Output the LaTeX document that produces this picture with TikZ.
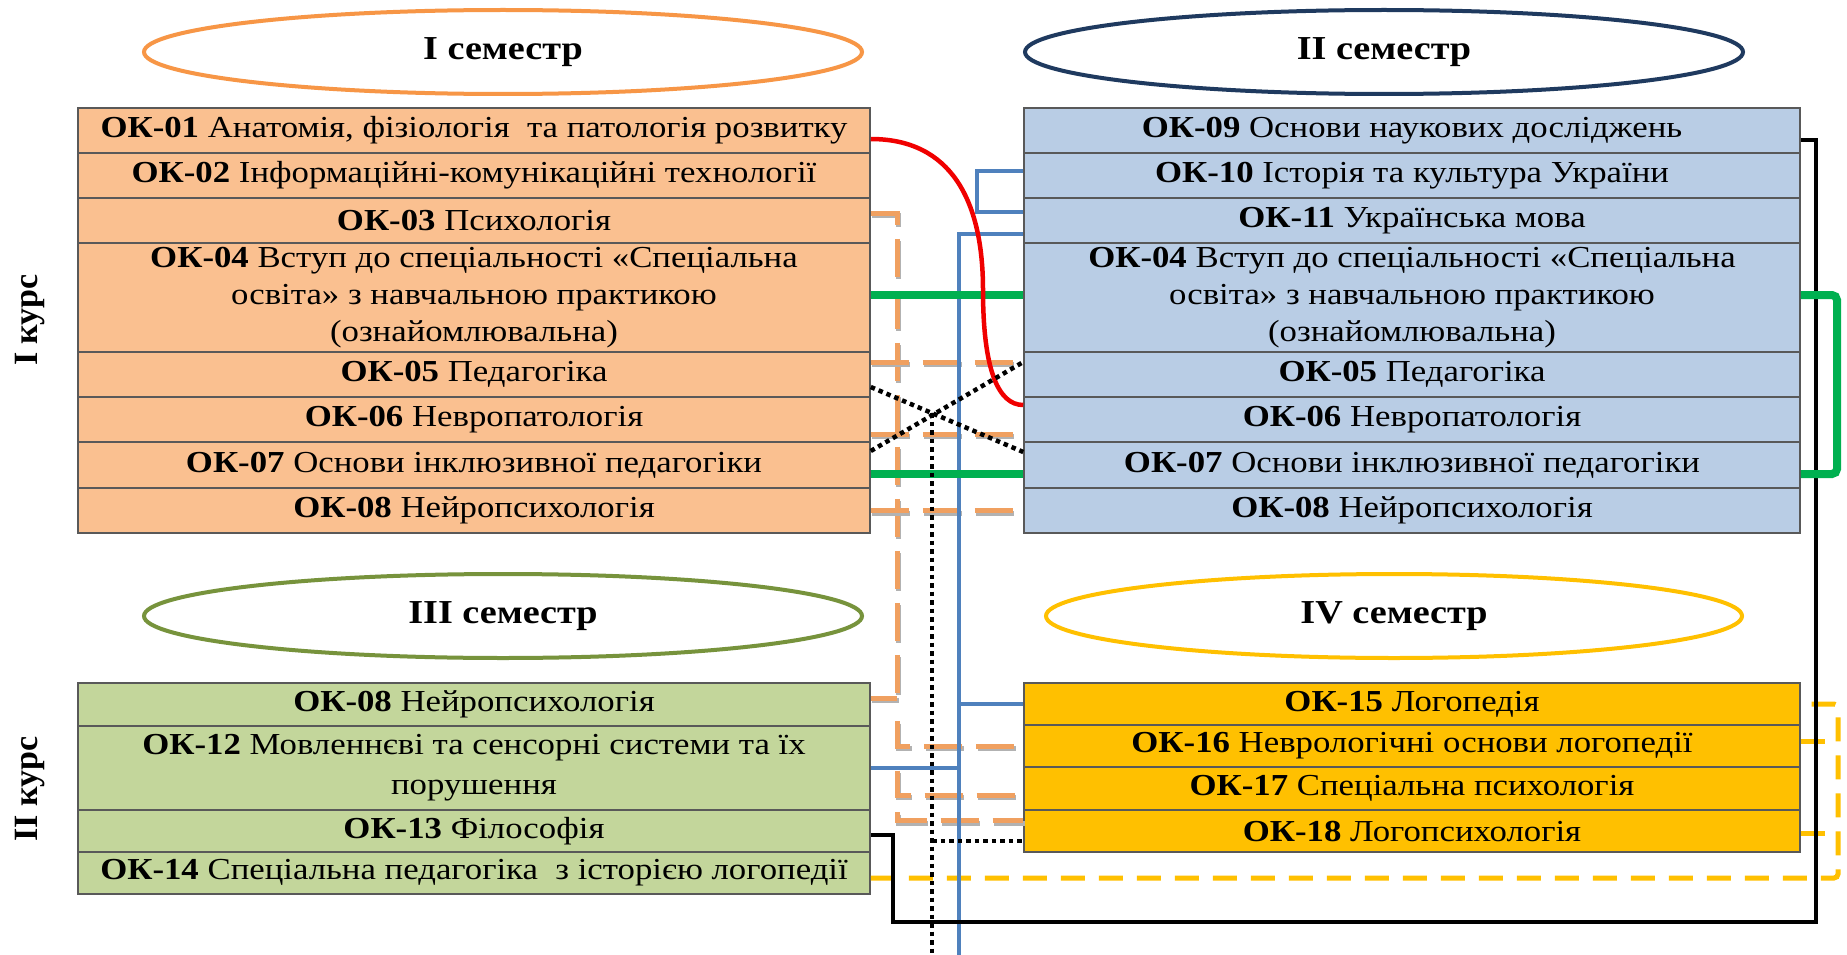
\documentclass[tikz,border=0pt]{standalone}
\usepackage{fontspec}
\setmainfont{Liberation Serif}[FakeStretch=1.14]
\newfontfamily\kursfont{Liberation Serif}
\usetikzlibrary{shapes.geometric,calc}
\definecolor{orfill}{HTML}{FAC090}
\definecolor{blfill}{HTML}{B9CDE5}
\definecolor{grfill}{HTML}{C3D69B}
\definecolor{yefill}{HTML}{FFC000}
\definecolor{bordc}{HTML}{595959}
\definecolor{orln}{HTML}{F0A060}
\definecolor{blln}{HTML}{4F81BD}
\definecolor{grln}{HTML}{00B050}
\definecolor{rdln}{HTML}{F00000}
\definecolor{yeln}{HTML}{FFC000}
\definecolor{eorange}{HTML}{F79646}
\definecolor{enavy}{HTML}{1F3A5F}
\definecolor{eolive}{HTML}{77933C}
\definecolor{eyellow}{HTML}{FFC000}
\newcommand{\rowfont}{\fontsize{30.5}{37}\selectfont}
\newcommand{\semfont}{\bfseries\fontsize{33.5}{38}\selectfont}
\begin{document}
\begin{tikzpicture}[x=1pt,y=-1pt,
  box/.style={draw=bordc, line width=1.5pt, inner sep=0pt, align=center, font=\rowfont},
  lbox/.style={box, minimum width=792pt},
  rbox/.style={box, minimum width=776pt},
  sem/.style={ellipse, draw=#1, line width=4pt, inner sep=0pt, font=\semfont, minimum width=718pt, minimum height=84pt},
  kurs/.style={rotate=90, font=\kursfont\bfseries\fontsize{34}{40}\selectfont},
  odash/.style={draw=orln, line width=5pt, dash pattern=on 38pt off 14pt,
     preaction={draw=gray!60, line width=5pt, dash pattern=on 38pt off 14pt,
       transform canvas={shift={(1.5,2.5)}}}},
  blueln/.style={draw=blln, line width=4pt},
  grnln/.style={draw=grln, line width=8pt},
  redln/.style={draw=rdln, line width=4.5pt},
  blkln/.style={draw=black, line width=3.5pt},
  dotln/.style={draw=black, line width=4.5pt, dash pattern=on 4.5pt off 4pt},
  ydash/.style={draw=yeln, line width=5pt, dash pattern=on 24pt off 14pt}
]
\useasboundingbox (0,0) rectangle (1847,955);
\fill[white] (0,0) rectangle (1847,955);

% semester ellipses
\node[sem=eorange] (e1) at (503,52) {I семестр};
\node[sem=enavy] (e2) at (1384,52) {II семестр};
\node[sem=eolive] (e3) at (503,616) {III семестр};
\node[sem=eyellow, minimum width=696pt] (e4) at (1394,616) {IV семестр};

% course labels
\node[kurs] (k1) at (30,320) {I курс};
\node[kurs] (k2) at (30,789) {II курс};

% I semester
\node[lbox, fill=orfill, minimum height=45pt] (l1) at (474,130.5) {\textbf{ОК-01} Анатомія, фізіологія\ \ та патологія розвитку};
\node[lbox, fill=orfill, minimum height=45pt] (l2) at (474,175.5) {\textbf{ОК-02} Інформаційні-комунікаційні технології};
\node[lbox, fill=orfill, minimum height=45pt] (l3) at (474,220.5) {\textbf{ОК-03} Психологія};
\node[lbox, fill=orfill, minimum height=109pt] (l4) at (474,297.5) {\textbf{ОК-04} Вступ до спеціальності «Спеціальна\\освіта» з навчальною практикою\\(ознайомлювальна)};
\node[lbox, fill=orfill, minimum height=45pt] (l5) at (474,374.5) {\textbf{ОК-05} Педагогіка};
\node[lbox, fill=orfill, minimum height=45pt] (l6) at (474,419.5) {\textbf{ОК-06} Невропатологія};
\node[lbox, fill=orfill, minimum height=46pt] (l7) at (474,465) {\textbf{ОК-07} Основи інклюзивної педагогіки};
\node[lbox, fill=orfill, minimum height=45pt] (l8) at (474,510.5) {\textbf{ОК-08} Нейропсихологія};

% II semester
\node[rbox, fill=blfill, minimum height=45pt] (r9) at (1412,130.5) {\textbf{ОК-09} Основи наукових досліджень};
\node[rbox, fill=blfill, minimum height=45pt] (r10) at (1412,175.5) {\textbf{ОК-10} Історія та культура України};
\node[rbox, fill=blfill, minimum height=45pt] (r11) at (1412,220.5) {\textbf{ОК-11} Українська мова};
\node[rbox, fill=blfill, minimum height=109pt] (r4) at (1412,297.5) {\textbf{ОК-04} Вступ до спеціальності «Спеціальна\\освіта» з навчальною практикою\\(ознайомлювальна)};
\node[rbox, fill=blfill, minimum height=45pt] (r5) at (1412,374.5) {\textbf{ОК-05} Педагогіка};
\node[rbox, fill=blfill, minimum height=45pt] (r6) at (1412,419.5) {\textbf{ОК-06} Невропатологія};
\node[rbox, fill=blfill, minimum height=46pt] (r7) at (1412,465) {\textbf{ОК-07} Основи інклюзивної педагогіки};
\node[rbox, fill=blfill, minimum height=45pt] (r8) at (1412,510.5) {\textbf{ОК-08} Нейропсихологія};

% III semester
\node[lbox, fill=grfill, minimum height=43pt] (g8) at (474,704.5) {\textbf{ОК-08} Нейропсихологія};
\node[lbox, fill=grfill, minimum height=84pt] (g12) at (474,768) {\textbf{ОК-12} Мовленнєві та сенсорні системи та їх\\[3pt]порушення};
\node[lbox, fill=grfill, minimum height=42pt] (g13) at (474,831) {\textbf{ОК-13} Філософія};
\node[lbox, fill=grfill, minimum height=42pt] (g14) at (474,873) {\textbf{ОК-14} Спеціальна педагогіка\ \ з історією логопедії};

% IV semester
\node[rbox, fill=yefill, minimum height=42pt] (y15) at (1412,704) {\textbf{ОК-15} Логопедія};
\node[rbox, fill=yefill, minimum height=42pt] (y16) at (1412,746) {\textbf{ОК-16} Неврологічні основи логопедії};
\node[rbox, fill=yefill, minimum height=43pt] (y17) at (1412,788.5) {\textbf{ОК-17} Спеціальна психологія};
\node[rbox, fill=yefill, minimum height=42pt] (y18) at (1412,831) {\textbf{ОК-18} Логопсихологія};

% lanes
\coordinate (obus) at (897,0);
\coordinate (dbus) at (932,0);
\coordinate (bbus) at (958.5,0);
\coordinate (bbkt) at (977,0);
\coordinate (kbus) at (1816,0);
\coordinate (klft) at (893,0);
\coordinate (gbus) at (1837,0);
\coordinate (ybus) at (1838,0);
\coordinate (pagebot) at (0,958);
\coordinate (kbot) at (0,922);
\coordinate (redmid) at (983,290);
\coordinate (dcross) at (932,413);

% orange dashed
\draw[odash] ($(l3.east)+(0,-7.5)$) -| ($(obus |- g8.east)+(0,-6.5)$);
\draw[odash] ($(g8.east)+(0,-6.5)$) -- ($(obus |- g8.east)+(0,-6.5)$);
\draw[odash] ($(l5.east)+(0,-12.5)$) -- ($(r5.west)+(0,-12.5)$);
\draw[odash] ($(l6.east)+(0,14.5)$) -- ($(r6.west)+(0,14.5)$);
\draw[odash] (l8.east) -- (r8.west);
\draw[odash] ($(obus |- y16.west)+(0,-25)$) |- (y16.west);
\draw[odash] ($(obus |- y17.west)+(0,-18)$) |- ($(y17.west)+(0,6.5)$);
\draw[odash] ($(obus |- y18.west)+(0,-19)$) |- ($(y18.west)+(0,-10.5)$);

% yellow dashed
\draw[ydash, rounded corners=4pt] ($(g14.east)+(0,5)$) -| (ybus |- y15.east) -- (y15.east);
\draw[ydash] ($(y16.east)+(0,-4.5)$) -- ($(ybus |- y16.east)+(0,-4.5)$);
\draw[ydash] ($(y18.east)+(0,2)$) -- ($(ybus |- y18.east)+(0,2)$);

% blue
\draw[blueln] ($(r10.west)+(0,-4.5)$) -| ($(bbkt |- r11.west)+(0,-8.5)$) -- ($(r11.west)+(0,-8.5)$);
\draw[blueln] ($(r11.west)+(0,13.5)$) -| (bbus |- pagebot);
\draw[blueln] (y15.west) -- (bbus |- y15.west);
\draw[blueln] (g12.east) -- (bbus |- g12.east);

% black
\draw[blkln] ($(r9.east)+(0,9.5)$) -| (kbus |- kbot) -| ($(klft |- g13.east)+(0,4)$) -- ($(g13.east)+(0,4)$);

% green
\draw[grnln] ($(l4.east)+(0,-2.5)$) -- ($(r4.west)+(0,-2.5)$);
\draw[grnln] ($(l7.east)+(0,9)$) -- ($(r7.west)+(0,9)$);
\draw[grnln, rounded corners=5pt] ($(r4.east)+(0,-2.5)$) -| ($(gbus |- r7.east)+(0,9)$) -- ($(r7.east)+(0,9)$);

% red
\draw[redln] ($(l1.east)+(0,8.5)$) .. controls +(80,0) and +(0,-90) .. (redmid) .. controls +(0,80) and +(-25,0) .. ($(r6.west)+(0,-14.5)$);

% dotted
\draw[dotln] ($(l5.east)+(0,12.5)$) -- ($(r7.west)+(0,-13)$);
\draw[dotln] ($(l7.east)+(0,-14)$) -- ($(r5.west)+(0,-12.5)$);
\draw[dotln] (dcross) -- (dbus |- pagebot);
\draw[dotln] ($(dbus |- y18.west)+(0,10)$) -- ($(y18.west)+(0,10)$);
\end{tikzpicture}
\end{document}
